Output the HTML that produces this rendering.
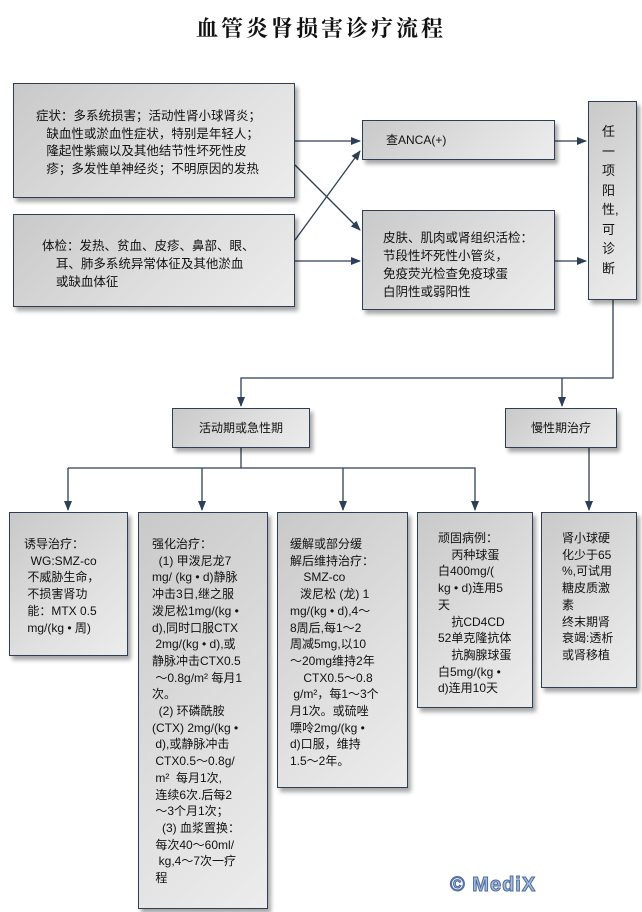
<!DOCTYPE html>
<html><head><meta charset="utf-8">
<style>
body{margin:0;width:642px;height:912px;background:#fff;position:relative;overflow:hidden;font-family:"Liberation Sans","Noto Sans CJK SC",sans-serif;color:#111}
.b{position:absolute;box-sizing:border-box;border:1.5px solid #2d3f55;background:linear-gradient(135deg,#c9c9c9 0%,#e0e0e0 60%,#ececec 100%);box-shadow:3px 4px 4px rgba(0,0,0,0.35);font-size:12px;line-height:16.7px}
.t{position:absolute;left:0;top:12px;width:642px;text-align:center;font:bold 22px "Liberation Serif","Noto Serif CJK SC",serif;letter-spacing:3px}
svg{position:absolute;left:0;top:0}
.wm{position:absolute;left:450px;top:874px;font:bold 20px "Liberation Sans",sans-serif;color:#a8bedc;-webkit-text-stroke:1px #4a6a9a;letter-spacing:1px}
</style></head><body>
<div class="t">血管炎肾损害诊疗流程</div>
<svg width="642" height="912">
<defs><marker id="a" markerWidth="10" markerHeight="8" refX="9" refY="4" orient="auto" markerUnits="userSpaceOnUse"><path d="M0,0 L10,4 L0,8 z" fill="#2d3f55"/></marker></defs>
<g stroke="#2d3f55" stroke-width="1.3" fill="none">
<line x1="295" y1="141" x2="360" y2="141" marker-end="url(#a)"/>
<line x1="295" y1="165" x2="360" y2="230" marker-end="url(#a)"/>
<line x1="295" y1="240" x2="360" y2="151" marker-end="url(#a)"/>
<line x1="295" y1="261" x2="360" y2="261" marker-end="url(#a)"/>
<line x1="555" y1="141" x2="586" y2="141" marker-end="url(#a)"/>
<line x1="555" y1="261" x2="586" y2="261" marker-end="url(#a)"/>
<polyline points="613,300 613,378 241,378 241,406" marker-end="url(#a)"/>
<line x1="562" y1="378" x2="562" y2="406" marker-end="url(#a)"/>
<line x1="241" y1="448" x2="241" y2="468"/>
<polyline points="68,468 475,468 475,510" marker-end="url(#a)"/>
<line x1="68" y1="468" x2="68" y2="510" marker-end="url(#a)"/>
<line x1="202" y1="468" x2="202" y2="510" marker-end="url(#a)"/>
<line x1="343" y1="468" x2="343" y2="510" marker-end="url(#a)"/>
<line x1="589" y1="448" x2="589" y2="510" marker-end="url(#a)"/>
</g></svg>
<div class="b" style="left:13px;top:83px;width:282px;height:115px;padding:24px 0 0 22px;line-height:17.5px;font-size:12.5px">症状：多系统损害；活动性肾小球肾炎；<br>&nbsp;&nbsp;&nbsp;缺血性或淤血性症状，特别是年轻人；<br>&nbsp;&nbsp;&nbsp;隆起性紫癜以及其他结节性坏死性皮<br>&nbsp;&nbsp;&nbsp;疹；多发性单神经炎；不明原因的发热</div>
<div class="b" style="left:13px;top:214px;width:282px;height:93px;padding:22px 0 0 28px;line-height:18px;font-size:12.5px">体检：发热、贫血、皮疹、鼻部、眼、<br>&nbsp;&nbsp;&nbsp;&nbsp;耳、肺多系统异常体征及其他淤血<br>&nbsp;&nbsp;&nbsp;&nbsp;或缺血体征</div>
<div class="b" style="left:362px;top:120px;width:193px;height:40px;padding:11px 0 0 23px">查ANCA(+)</div>
<div class="b" style="left:362px;top:210px;width:193px;height:100px;padding:18px 0 0 20px;line-height:18px;font-size:12.5px">皮肤、肌肉或肾组织活检：<br>节段性坏死性小管炎，<br>免疫荧光检查免疫球蛋<br>白阴性或弱阳性</div>
<div class="b" style="left:588px;top:101px;width:49px;height:199px;padding:20px 0 0 13px;line-height:19.5px;font-size:13px">任<br>一<br>项<br>阳<br>性,<br>可<br>诊<br>断</div>
<div class="b" style="left:172px;top:408px;width:138px;height:40px;padding:11px 0 0 0;text-align:center">活动期或急性期</div>
<div class="b" style="left:505px;top:408px;width:112px;height:40px;padding:11px 0 0 0;text-align:center">慢性期治疗</div>
<div class="b" style="left:9px;top:512px;width:119px;height:144px;padding:23px 0 0 14px">诱导治疗：<br>&nbsp;&nbsp;WG:SMZ-co<br>&nbsp;不威胁生命，<br>&nbsp;不损害肾功<br>&nbsp;能：MTX 0.5<br>&nbsp;mg/(kg • 周)</div>
<div class="b" style="left:138px;top:512px;width:130px;height:397px;padding:23px 0 0 13px">强化治疗：<br>&nbsp;&nbsp;(1) 甲泼尼龙7<br>mg/ (kg • d)静脉<br>冲击3日,继之服<br>泼尼松1mg/(kg •<br>d),同时口服CTX<br>&nbsp;2mg/(kg • d),或<br>静脉冲击CTX0.5<br>&nbsp;～0.8g/m² 每月1<br>次。<br>&nbsp;&nbsp;(2) 环磷酰胺<br>(CTX) 2mg/(kg •<br>&nbsp;d),或静脉冲击<br>&nbsp;CTX0.5～0.8g/<br>&nbsp;m²&nbsp; 每月1次,<br>&nbsp;连续6次.后每2<br>&nbsp;～3个月1次；<br>&nbsp;&nbsp;&nbsp;(3) 血浆置换：<br>&nbsp;每次40～60ml/<br>&nbsp;&nbsp;kg,4～7次一疗<br>&nbsp;程</div>
<div class="b" style="left:277px;top:512px;width:131px;height:276px;padding:23px 0 0 12px">缓解或部分缓<br>解后维持治疗：<br>&nbsp;&nbsp;&nbsp;&nbsp;SMZ-co<br>&nbsp;&nbsp;&nbsp;泼尼松 (龙) 1<br>mg/(kg • d),4～<br>8周后,每1～2<br>周减5mg,以10<br>～20mg维持2年<br>&nbsp;&nbsp;&nbsp;&nbsp;CTX0.5～0.8<br>&nbsp;g/m²，每1～3个<br>月1次。或硫唑<br>嘌呤2mg/(kg •<br>d)口服，维持<br>1.5～2年。</div>
<div class="b" style="left:417px;top:512px;width:116px;height:196px;padding:17px 0 0 20px">顽固病例：<br>&nbsp;&nbsp;&nbsp;&nbsp;丙种球蛋<br>白400mg/(<br>kg • d)连用5<br>天<br>&nbsp;&nbsp;&nbsp;&nbsp;抗CD4CD<br>52单克隆抗体<br>&nbsp;&nbsp;&nbsp;&nbsp;抗胸腺球蛋<br>白5mg/(kg •<br>d)连用10天</div>
<div class="b" style="left:541px;top:512px;width:96px;height:176px;padding:17px 0 0 20px">肾小球硬<br>化少于65<br>%,可试用<br>糖皮质激<br>素<br>终末期肾<br>衰竭:透析<br>或肾移植</div>
<div class="wm">© MediX</div>
</body></html>
